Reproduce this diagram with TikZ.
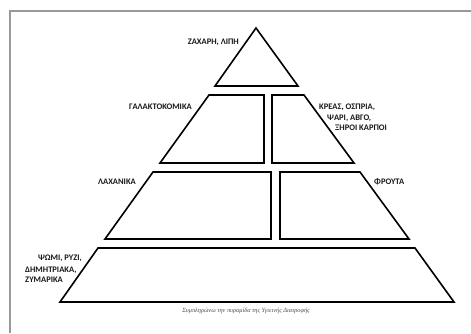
\documentclass[tikz,border=0pt]{standalone}
\usepackage{fontspec}
\setmainfont{Carlito}
\newfontfamily\capfont{Liberation Serif}
\begin{document}
\begin{tikzpicture}[x=1pt,y=-1pt,
  tier/.style={draw=black,line width=1.6pt,line join=miter},
  lbl/.style={font=\bfseries\fontsize{8.5}{9}\selectfont,text=black!90,inner sep=0pt},
  frame/.style={draw=black!40,line width=1.5pt}]
\useasboundingbox (0,0) rectangle (471,333);
\fill[white] (0,0) rectangle (471,333);
% page frame
\draw[frame] (10,333) -- (10,11) -- (471,11);
% top triangle
\draw[tier] (256,28) -- (298,86) -- (215,86) -- cycle;
% tier 2
\draw[tier] (209,95) -- (264,95) -- (264,163) -- (160,163) -- cycle;
\draw[tier] (272,95) -- (304,95) -- (354,163) -- (272,163) -- cycle;
% tier 3
\draw[tier] (153,172) -- (271,172) -- (271,239) -- (105,239) -- cycle;
\draw[tier] (280,172) -- (360,172) -- (409,239) -- (280,239) -- cycle;
% tier 4
\draw[tier] (98,248) -- (415,248) -- (454,302) -- (60,302) -- cycle;
% labels
\node[lbl,anchor=east] (sugar) at (239,42) {ΖΑΧΑΡΗ, ΛΙΠΗ};
\node[lbl,anchor=east] (dairy) at (192,107) {ΓΑΛΑΚΤΟΚΟΜΙΚΑ};
\node[lbl,anchor=west] (meat1) at (319,107) {ΚΡΕΑΣ, ΟΣΠΡΙΑ,};
\node[lbl,anchor=west] (meat2) at (327,118) {ΨΑΡΙ, ΑΒΓΟ,};
\node[lbl,anchor=west] (meat3) at (335,128) {ΞΗΡΟΙ ΚΑΡΠΟΙ};
\node[lbl,anchor=east] (veg) at (136,182) {ΛΑΧΑΝΙΚΑ};
\node[lbl,anchor=west] (fruit) at (374,182) {ΦΡΟΥΤΑ};
\node[lbl,anchor=east] (bread1) at (82,258) {ΨΩΜΙ, ΡΥΖΙ,};
\node[lbl,anchor=west] (bread2) at (25,270) {ΔΗΜΗΤΡΙΑΚΑ,};
\node[lbl,anchor=west] (bread3) at (25,280) {ΖΥΜΑΡΙΚΑ};
\node[font=\capfont\itshape\fontsize{6.3}{7}\selectfont,text=black!70,inner sep=0pt] (cap) at (246,311) {Συμπληρώνω την πυραμίδα της Υγιεινής Διατροφής};
\end{tikzpicture}
\end{document}
